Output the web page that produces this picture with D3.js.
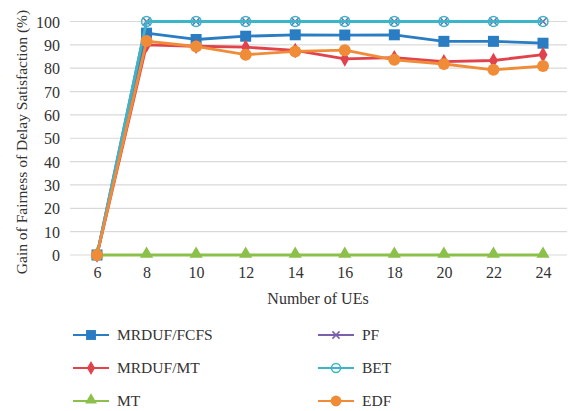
<!DOCTYPE html>
<html>
<head>
<meta charset="utf-8">
<script src="https://cdn.jsdelivr.net/npm/d3@7"></script>
<style>
  body { margin: 0; background: #fff; }
</style>
</head>
<body>
<svg id="chart" width="571" height="411"></svg>
<script>
// Number of UEs
const ues = [6, 8, 10, 12, 14, 16, 18, 20, 22, 24];
const yTicks = [0, 10, 20, 30, 40, 50, 60, 70, 80, 90, 100];

// Gain of fairness of delay satisfaction (%) per scheduler
const fcfs   = [0, 95.0, 92.3, 93.7, 94.3, 94.2, 94.3, 91.5, 91.5, 90.7];
const mrdmt  = [0, 90.0, 89.4, 89.0, 87.6, 84.0, 84.5, 82.8, 83.3, 85.8];
const mt     = [0, 0, 0, 0, 0, 0, 0, 0, 0, 0];
const pf     = [0, 100, 100, 100, 100, 100, 100, 100, 100, 100];
const bet    = [0, 100, 100, 100, 100, 100, 100, 100, 100, 100];
const edf    = [0, 91.6, 89.3, 85.8, 87.2, 87.7, 83.6, 81.8, 79.3, 80.9];

const series = [
  { name: "MRDUF/FCFS", values: fcfs,  color: "#2A7DC2", marker: "square" },
  { name: "MRDUF/MT",   values: mrdmt, color: "#E0434B", marker: "diamond" },
  { name: "MT",         values: mt,    color: "#8BC04B", marker: "triangle" },
  { name: "PF",         values: pf,    color: "#7C5FAA", marker: "cross" },
  { name: "BET",        values: bet,   color: "#3DB5C9", marker: "circle" },
  { name: "EDF",        values: edf,   color: "#F08C38", marker: "dot" }
];

const FONT = "'Liberation Serif'";
const TEXT = "#333";

const svg = d3.select("#chart");
const x = d3.scaleLinear().domain([6, 24]).range([97, 543]);
const y = d3.scaleLinear().domain([0, 100]).range([255, 21.5]);

// horizontal gridlines
svg.append("g").selectAll("line").data(yTicks).join("line")
  .attr("x1", 70).attr("x2", 567)
  .attr("y1", d => y(d)).attr("y2", d => y(d))
  .attr("stroke", "#d9d9d9").attr("stroke-width", 1.2);

// y axis labels
const yAxis = d3.axisLeft(y).tickValues(yTicks).tickSize(0).tickPadding(0);
const gy = svg.append("g").attr("transform", "translate(60,0)").call(yAxis);
gy.select(".domain").remove();
gy.selectAll("text").attr("dy", "0.35em").attr("fill", TEXT)
  .attr("font-family", FONT).attr("font-size", 16);

// x axis labels
const xAxis = d3.axisBottom(x).tickValues(ues).tickSize(0).tickPadding(0);
const gx = svg.append("g").attr("transform", "translate(0,267)").call(xAxis);
gx.select(".domain").remove();
gx.selectAll("text").attr("dy", "0.71em").attr("fill", TEXT)
  .attr("font-family", FONT).attr("font-size", 16);

svg.append("text").attr("x", 318).attr("y", 304).attr("text-anchor", "middle")
  .attr("font-family", FONT).attr("font-size", 16).attr("fill", TEXT)
  .text("Number of UEs");

svg.append("text").attr("transform", "translate(27,142) rotate(-90)")
  .attr("text-anchor", "middle").attr("font-family", FONT).attr("font-size", 15.5)
  .attr("fill", TEXT)
  .text("Gain of Fairness of Delay Satisfaction (%)");

function drawMarker(g, type, color, cx, cy, scale = 1) {
  const s = scale;
  if (type === "square") {
    g.append("rect").attr("x", cx - 5.5 * s).attr("y", cy - 5.5 * s)
      .attr("width", 11 * s).attr("height", 11 * s).attr("fill", color);
  } else if (type === "diamond") {
    g.append("path").attr("d", d3.symbol(d3.symbolDiamond, 70 * s * s)())
      .attr("transform", `translate(${cx},${cy})`).attr("fill", color);
  } else if (type === "triangle") {
    g.append("path").attr("d", d3.symbol(d3.symbolTriangle, 75 * s * s)())
      .attr("transform", `translate(${cx},${cy - 1})`).attr("fill", color);
  } else if (type === "cross") {
    const r = 4 * s;
    g.append("path").attr("d", `M${cx - r},${cy - r}L${cx + r},${cy + r}M${cx - r},${cy + r}L${cx + r},${cy - r}`)
      .attr("stroke", color).attr("stroke-width", 1.5).attr("fill", "none");
  } else if (type === "circle") {
    g.append("circle").attr("cx", cx).attr("cy", cy).attr("r", 5 * s)
      .attr("fill", "none").attr("stroke", color).attr("stroke-width", 1.5);
  } else if (type === "dot") {
    g.append("circle").attr("cx", cx).attr("cy", cy).attr("r", 6 * s)
      .attr("fill", color);
  }
}

const line = d3.line().x((d, i) => x(ues[i])).y(d => y(d));

series.forEach(s => {
  const g = svg.append("g");
  g.append("path").datum(s.values).attr("d", line)
    .attr("fill", "none").attr("stroke", s.color).attr("stroke-width", 2.8)
    .attr("stroke-linejoin", "round");
  s.values.forEach((v, i) => drawMarker(g, s.marker, s.color, x(ues[i]), y(v)));
});

// legend: two columns of three entries
const legend = svg.append("g");
series.forEach((s, i) => {
  const col = i < 3 ? 0 : 1;
  const row = i % 3;
  const lx = col === 0 ? 73 : 318;
  const ly = 335 + row * 33;
  legend.append("line").attr("x1", lx).attr("x2", lx + 36).attr("y1", ly).attr("y2", ly)
    .attr("stroke", s.color).attr("stroke-width", 1.8);
  drawMarker(legend, s.marker, s.color, lx + 18, ly, 0.9);
  legend.append("text").attr("x", lx + 44).attr("y", ly).attr("dy", "0.35em")
    .attr("font-family", FONT).attr("font-size", 15.5).attr("fill", TEXT)
    .text(s.name);
});
</script>
</body>
</html>
